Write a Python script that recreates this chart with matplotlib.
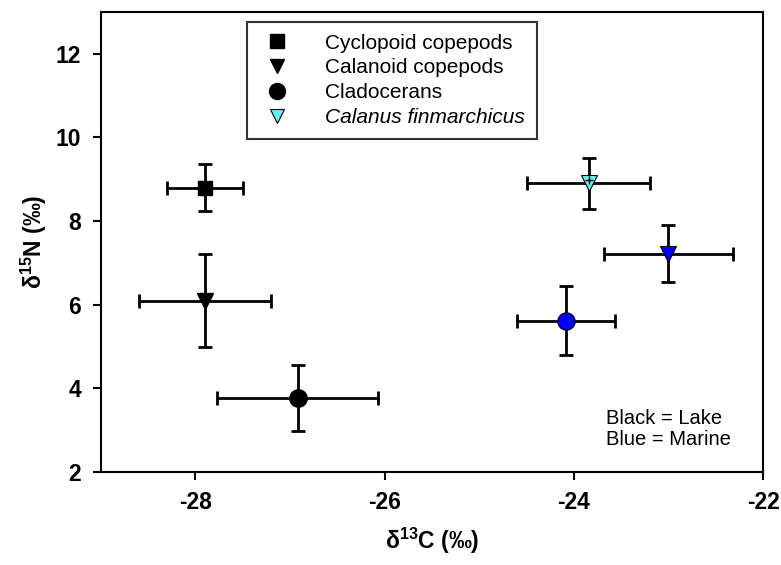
import matplotlib
matplotlib.use('Agg')
import matplotlib.pyplot as plt
from matplotlib.lines import Line2D

plt.rcParams['font.family'] = ['Liberation Sans', 'DejaVu Sans']
plt.rcParams['axes.unicode_minus'] = False
plt.rcParams['mathtext.fontset'] = 'custom'
plt.rcParams['mathtext.rm'] = 'Liberation Sans:bold'
plt.rcParams['mathtext.bf'] = 'Liberation Sans:bold'

# lake samples (black)
lake_names = ['Cyclopoid copepods', 'Calanoid copepods', 'Cladocerans']
lake_c = [-27.9, -27.9, -26.92]
lake_n = [8.8, 6.1, 3.77]
lake_cerr = [0.4, 0.7, 0.85]
lake_nerr = [0.57, 1.12, 0.78]
lake_markers = ['s', 'v', 'o']

# marine samples (blue / cyan)
marine_names = ['Cladocerans', 'Calanoid copepods', 'Calanus finmarchicus']
marine_c = [-24.08, -23.0, -23.84]
marine_n = [5.62, 7.22, 8.9]
marine_cerr = [0.52, 0.68, 0.65]
marine_nerr = [0.83, 0.68, 0.6]
marine_markers = ['o', 'v', 'v']
marine_colors = ['#0000ff', '#0000ff', '#66f0f0']

fig = plt.figure(figsize=(7.81, 5.65), dpi=100)
ax = fig.add_axes([0.129, 0.1646, 0.848, 0.8142])

msize = {'s': 10.5, 'v': 11, 'o': 12.5}

for x, y, xe, ye, m in zip(lake_c, lake_n, lake_cerr, lake_nerr, lake_markers):
    ax.errorbar(x, y, xerr=xe, yerr=ye, fmt='none', ecolor='black',
                elinewidth=2, capsize=5, capthick=2, zorder=2)
    ax.plot(x, y, m, color='black', ms=msize[m], zorder=3)

for x, y, xe, ye, m, c in zip(marine_c, marine_n, marine_cerr, marine_nerr,
                              marine_markers, marine_colors):
    ax.errorbar(x, y, xerr=xe, yerr=ye, fmt='none', ecolor='black',
                elinewidth=2, capsize=5, capthick=2, zorder=2)
    ax.plot(x, y, m, color=c, mec='black', mew=0.8, ms=msize[m], zorder=3)
    if c != '#0000ff':
        ax.plot(x, y + 0.08, '+', color='black', ms=6, mew=1, zorder=4)

ax.set_xlim(-29, -22)
ax.set_ylim(2, 13)
ax.set_xticks([-28, -26, -24, -22])
ax.set_yticks([2, 4, 6, 8, 10, 12])
ax.tick_params(direction='out', length=6, width=1.5, labelsize=16.5, pad=8)
for lbl in ax.get_xticklabels() + ax.get_yticklabels():
    lbl.set_fontweight('bold')
for s in ax.spines.values():
    s.set_linewidth(1.5)

ax.set_xlabel('δ$^{13}$C (‰)', fontsize=16.5, fontweight='bold', labelpad=8)
ax.set_ylabel('δ$^{15}$N (‰)', fontsize=16.5, fontweight='bold', labelpad=5)

handles = [
    Line2D([], [], marker='s', color='black', ls='none', ms=9.5),
    Line2D([], [], marker='v', color='black', ls='none', ms=10.5),
    Line2D([], [], marker='o', color='black', ls='none', ms=11.5),
    Line2D([], [], marker='v', color='#66f0f0', mec='black', mew=0.8, ls='none', ms=10),
]
leg = ax.legend(handles, ['Cyclopoid copepods', 'Calanoid copepods', 'Cladocerans',
                          'Calanus finmarchicus'],
                loc='upper left', bbox_to_anchor=(0.221, 0.978), fontsize=15,
                frameon=True, fancybox=False, edgecolor='black', borderpad=0.55,
                handletextpad=1.4, handlelength=1.8, labelspacing=0.28,
                borderaxespad=0)
leg.get_frame().set_linewidth(1.5)
leg.get_texts()[3].set_style('italic')

ax.text(-23.66, 3.03, 'Black = Lake\nBlue = Marine', fontsize=14.5, va='center',
        linespacing=1.1)

fig.savefig('out.png', dpi=100)
